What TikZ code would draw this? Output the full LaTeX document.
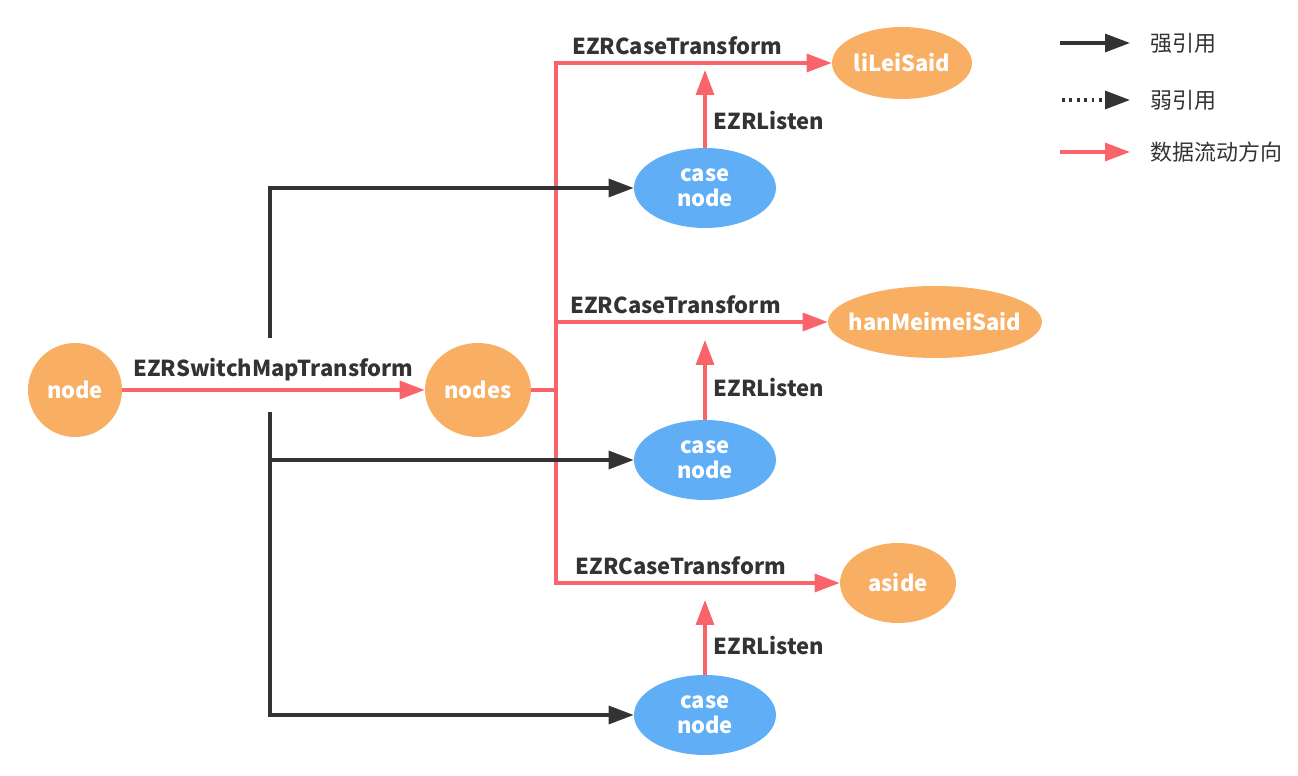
\documentclass[tikz,border=0pt]{standalone}
\usepackage{fontspec}
\setmainfont{Noto Sans CJK SC}
\usetikzlibrary{shapes.geometric, arrows.meta, positioning}

\definecolor{nodeorange}{HTML}{F8AE63}
\definecolor{nodeblue}{HTML}{60AEF5}
\definecolor{flowred}{HTML}{F8646A}
\definecolor{refdark}{HTML}{333333}

\begin{document}
\begin{tikzpicture}[x=0.02cm, y=-0.02cm,
  datanode/.style={ellipse, inner sep=0pt, text centered, align=center, fill=nodeorange, text=white, font=\bfseries\fontsize{12.5}{14.5}\selectfont},
  casenode/.style={ellipse, inner sep=0pt, minimum width=2.84cm, minimum height=1.6cm, text centered, align=center, fill=nodeblue, text=white, font=\bfseries\fontsize{12.5}{14.5}\selectfont},
  lbl/.style={text=refdark, inner sep=4pt, font=\bfseries\fontsize{12.5}{14.5}\selectfont},
  keytext/.style={text=refdark, anchor=west, inner sep=0pt, font=\fontsize{12.5}{14.5}\selectfont},
  strong/.style={line width=1.8pt, draw=refdark, -{Triangle[length=0.5cm, width=0.36cm]}},
  weak/.style={line width=1.8pt, draw=refdark, dash pattern=on 1.6pt off 2.6pt, -{Triangle[length=0.5cm, width=0.36cm]}},
  flow/.style={line width=1.8pt, draw=flowred, -{Triangle[length=0.5cm, width=0.36cm]}},
  flowline/.style={line width=1.8pt, draw=flowred}]

  \useasboundingbox (0,0) rectangle (1298,776);

  % Nodes
  \node (src) [datanode, minimum width=1.88cm, minimum height=1.88cm] at (75,390) {node};
  \node (nodes) [datanode, minimum width=2.12cm, minimum height=1.88cm] at (478,390) {nodes};
  \node (lilei) [datanode, minimum width=2.8cm, minimum height=1.44cm] at (902,63) {liLeiSaid};
  \node (hanmeimei) [datanode, inner xsep=-0.21cm, minimum width=4.28cm, minimum height=1.44cm] at (935,322) {hanMeimeiSaid};
  \node (aside) [datanode, minimum width=2.32cm, minimum height=1.6cm] at (898,583) {aside};
  \node (case1) [casenode] at (705,188) {case\\node};
  \node (case2) [casenode] at (705,460) {case\\node};
  \node (case3) [casenode] at (705,715) {case\\node};

  \coordinate (fork) at (556,390);
  \coordinate (holdtop) at (270,338);
  \coordinate (holdmid) at (270,460);
  \coordinate (holdbot) at (270,412);
  \coordinate (listen1) at (705,70);
  \coordinate (listen2) at (705,340);
  \coordinate (listen3) at (705,600);

  % Arrows
  \draw [flow] (src) -- node[lbl, above] {EZRSwitchMapTransform} (nodes);
  \draw [flowline] (nodes) -- (fork);
  \draw [flow] (fork) |- node[lbl, above, pos=0.72] {EZRCaseTransform} (lilei);
  \draw [flow] (fork) |- node[lbl, above, pos=0.72] {EZRCaseTransform} (hanmeimei);
  \draw [flow] (fork) |- node[lbl, above, pos=0.72] {EZRCaseTransform} (aside);
  \draw [flow] (case1) -- node[lbl, right, pos=0.35] {EZRListen} (listen1);
  \draw [flow] (case2) -- node[lbl, right, pos=0.4] {EZRListen} (listen2);
  \draw [flow] (case3) -- node[lbl, right, pos=0.39] {EZRListen} (listen3);

  \draw [strong] (holdtop) |- (case1);
  \draw [strong] (holdbot) |- (case3);
  \draw [strong] (holdmid) -- (case2);

  % Legend
  \coordinate (key1a) at (1060,43);
  \coordinate (key1b) at (1130,43);
  \coordinate (key2a) at (1062,100);
  \coordinate (key2b) at (1130,100);
  \coordinate (key3a) at (1060,152);
  \coordinate (key3b) at (1130,152);
  \draw [strong] (key1a) -- (key1b);
  \draw [weak] (key2a) -- (key2b);
  \draw [flow] (key3a) -- (key3b);
  \node (key1) [keytext] at (1150,43) {强引用};
  \node (key2) [keytext] at (1150,100) {弱引用};
  \node (key3) [keytext] at (1150,152) {数据流动方向};

\end{tikzpicture}
\end{document}
